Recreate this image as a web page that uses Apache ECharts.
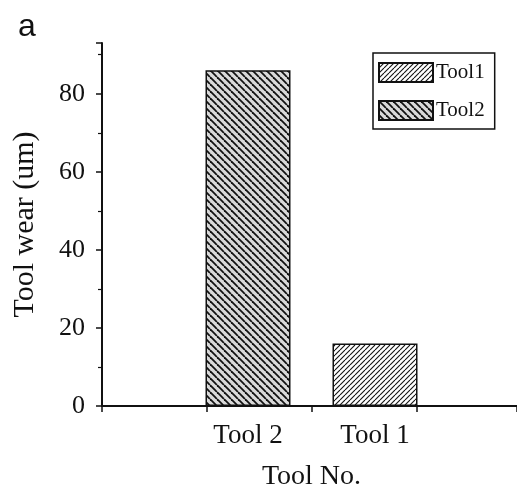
<!DOCTYPE html>
<html>
<head>
<meta charset="utf-8">
<script src="https://cdn.jsdelivr.net/npm/echarts@6/dist/echarts.min.js"></script>
<style>html,body{margin:0;padding:0;background:#fff;}#c{width:517px;height:492px;}</style>
</head>
<body>
<div id="c"></div>
<script>
var categories = ['Tool 2', 'Tool 1'];
var wear = [86, 16];
var seriesNames = ['Tool1', 'Tool2'];
var seriesCategory = ['Tool 1', 'Tool 2'];
var yTicks = [0, 20, 40, 60, 80];

function hatch(size, dir, bg, lw) {
  var c = document.createElement('canvas');
  c.width = size; c.height = size;
  var g = c.getContext('2d');
  g.fillStyle = bg; g.fillRect(0, 0, size, size);
  g.strokeStyle = '#111'; g.lineWidth = lw;
  for (var k = -size; k <= size; k += size) {
    g.beginPath();
    if (dir === 'back') { g.moveTo(k, 0); g.lineTo(k + size, size); }
    else { g.moveTo(k, size); g.lineTo(k + size, 0); }
    g.stroke();
  }
  return { image: c, repeat: 'repeat' };
}
var patterns = {
  'Tool1': hatch(5, 'fwd', '#ffffff', 1.1),
  'Tool2': hatch(7, 'back', '#d9d9d9', 1.8)
};

var serif = '"Liberation Serif", "Times New Roman", serif';
var chart = echarts.init(document.getElementById('c'), null, { renderer: 'canvas' });

var series = seriesNames.map(function (name, si) {
  return {
    name: name,
    type: 'bar',
    xAxisIndex: 0,
    yAxisIndex: 0,
    barWidth: 85,
    barGap: '-100%',
    itemStyle: { color: patterns[name], borderColor: '#111', borderWidth: 1.5 },
    data: categories.map(function (c, i) { return c === seriesCategory[si] ? wear[i] : '-'; })
  };
});

chart.setOption({
  animation: false,
  title: { text: 'a', left: 13, top: 6, textStyle: { fontFamily: 'Liberation Sans', fontSize: 32, fontWeight: 'normal', color: '#111' } },
  legend: {
    data: seriesNames,
    orient: 'vertical',
    left: 373, top: 53,
    itemWidth: 54, itemHeight: 19, itemGap: 17,
    padding: [9, 10, 8, 5],
    borderColor: '#111', borderWidth: 1.5,
    icon: 'rect',
    textStyle: { fontFamily: serif, fontSize: 21, color: '#111', padding: [0, 0, 0, -2] }
  },
  grid: [
    { left: 184.5, width: 254, top: 43, height: 363, containLabel: false, outerBoundsMode: 'none' },
    { left: 102, width: 415, top: 43, height: 363, containLabel: false, outerBoundsMode: 'none' }
  ],
  xAxis: [
    {
      type: 'category', gridIndex: 0, data: categories,
      axisLine: { show: false }, axisTick: { show: false },
      axisLabel: { fontFamily: serif, fontSize: 27, color: '#111', margin: 16 },
      name: 'Tool No.', nameLocation: 'middle', nameGap: 57,
      nameTextStyle: { fontFamily: serif, fontSize: 28, color: '#111' }
    },
    {
      type: 'value', gridIndex: 1, min: 0, max: 3.95, interval: 1,
      axisLine: { lineStyle: { color: '#111', width: 2 } },
      axisTick: { inside: false, length: 6, lineStyle: { color: '#111', width: 1.5 } },
      axisLabel: { show: false }, splitLine: { show: false }
    }
  ],
  yAxis: [
    { type: 'value', gridIndex: 0, min: 0, max: 93, show: false, splitLine: { show: false } },
    {
      type: 'value', gridIndex: 1, min: 0, max: 93, interval: 20,
      axisLine: { show: true, lineStyle: { color: '#111', width: 2 } },
      axisTick: { show: true, length: 6, lineStyle: { color: '#111', width: 1.5 } },
      minorTick: { show: true, splitNumber: 2, length: 4, lineStyle: { color: '#111', width: 1.2 } },
      axisLabel: {
        fontFamily: serif, fontSize: 26, color: '#111', margin: 17, showMaxLabel: false,
        formatter: function (v) { return yTicks.indexOf(v) >= 0 ? String(v) : ''; }
      },
      splitLine: { show: false },
      name: 'Tool wear (um)', nameLocation: 'middle', nameGap: 62, nameRotate: 90,
      nameTextStyle: { fontFamily: serif, fontSize: 30, color: '#111' }
    }
  ],
  series: series
});
</script>
</body>
</html>
